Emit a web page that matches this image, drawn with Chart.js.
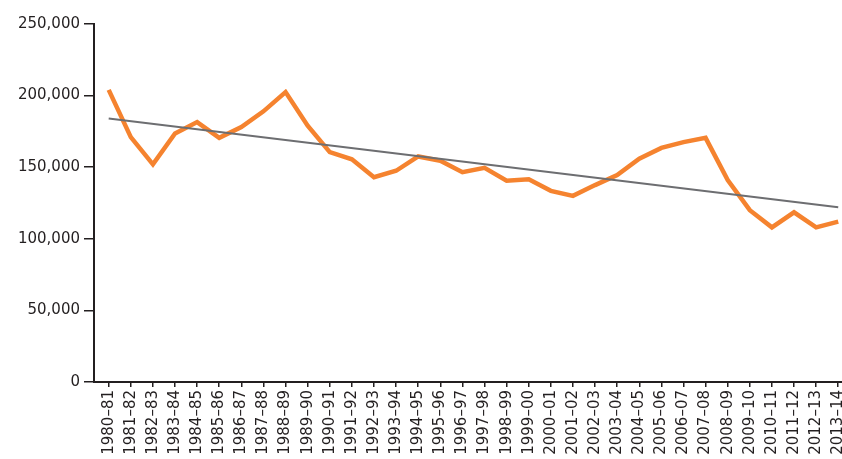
<!DOCTYPE html>
<html>
<head>
<meta charset="utf-8">
<script src="https://cdn.jsdelivr.net/npm/chart.js@4"></script>
<style>
  body { margin: 0; background: #fff; }
  #wrap { width: 842px; height: 459px; }
</style>
</head>
<body>
<div id="wrap"><canvas id="chart" width="842" height="459"></canvas></div>
<script>
// financial years on the x axis
const years = ['1980–81', '1981–82', '1982–83', '1983–84', '1984–85', '1985–86', '1986–87', '1987–88',
    '1988–89', '1989–90', '1990–91', '1991–92', '1992–93', '1993–94', '1994–95', '1995–96', '1996–97',
    '1997–98', '1998–99', '1999–00', '2000–01', '2001–02', '2002–03', '2003–04', '2004–05', '2005–06',
    '2006–07', '2007–08', '2008–09', '2009–10', '2010–11', '2011–12', '2012–13', '2013–14']

const values = [204000, 171000, 152000, 173500, 181500, 170500, 178000, 189000,
    202500, 179000, 160500, 155500, 143000, 147500, 157500, 154500, 146500,
    149500, 140500, 141500, 133500, 130000, 137500, 144500, 156000, 163500,
    167500, 170500, 141000, 120000, 108000, 118500, 108000, 112000]

// trend line end points (first and last year)
const trendYears = [0, 33]
const trendValues = [184000, 122000]

const yTicks = [0, 50000, 100000, 150000, 200000, 250000]

const font = { family: "'DejaVu Sans', sans-serif", size: 15 }
const ink = '#231f20'

const ctx = document.getElementById('chart')

new Chart(ctx, {
    type: 'line',
    data: {
        datasets: [{
            data: values.map((v, i) => ({ x: i, y: v })),
            borderColor: '#f5832f',
            borderWidth: 4.5,
            pointRadius: 0,
            tension: 0,
            order: 2
        }, {
            data: trendYears.map((x, i) => ({ x, y: trendValues[i] })),
            borderColor: '#6d6e71',
            borderWidth: 2,
            pointRadius: 0,
            order: 1
        }]
    },
    options: {
        responsive: false,
        animation: false,
        devicePixelRatio: 1,
        layout: { padding: { top: 24, right: 0, left: 0, bottom: 0 } },
        plugins: { legend: { display: false }, tooltip: { enabled: false } },
        scales: {
            x: {
                type: 'linear',
                min: -0.665,
                max: 33.17,
                afterBuildTicks: scale => { scale.ticks = years.map((_, i) => ({ value: i })) },
                afterFit: scale => {
                    scale.height = 459 - 24 - 358
                    scale.paddingLeft = 0
                    scale.paddingRight = 0
                },
                ticks: {
                    callback: v => years[v],
                    autoSkip: false,
                    minRotation: 90,
                    maxRotation: 90,
                    padding: 3,
                    color: ink,
                    font
                },
                grid: { drawOnChartArea: false, drawTicks: true, tickLength: 5, color: ink, lineWidth: 1.5 },
                border: { display: true, color: ink, width: 2 }
            },
            y: {
                min: 0,
                max: 250000,
                afterBuildTicks: scale => { scale.ticks = yTicks.map(value => ({ value })) },
                afterFit: scale => {
                    scale.width = 94
                    scale.paddingTop = 0
                    scale.paddingBottom = 0
                },
                ticks: {
                    callback: v => v.toLocaleString('en-US'),
                    padding: 4,
                    color: ink,
                    font
                },
                grid: { drawOnChartArea: false, drawTicks: true, tickLength: 10, color: ink, lineWidth: 1.5 },
                border: { display: true, color: ink, width: 2 }
            }
        }
    }
})
</script>
</body>
</html>
